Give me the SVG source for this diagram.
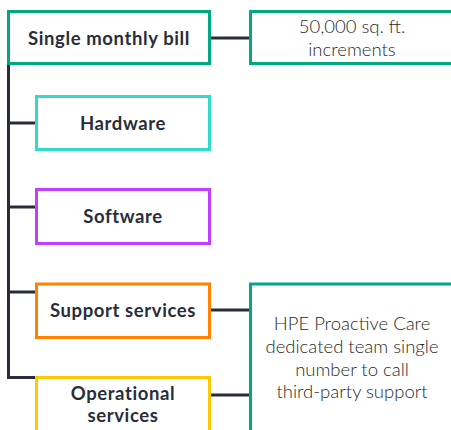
<svg xmlns="http://www.w3.org/2000/svg" width="451" height="430" viewBox="0 0 451 430">
<style>
.box{fill:#fff;stroke-width:3}
.b{font-family:Lato,"Liberation Sans",sans-serif;font-weight:bold;font-size:18.5px;letter-spacing:0.6px;fill:#292d3a;text-anchor:middle}
.t{font-family:Lato,"Liberation Sans",sans-serif;font-weight:300;font-size:18.5px;fill:#2a2a2a;text-anchor:middle}
.c{fill:none;stroke:#292d3a;stroke-width:3}
</style>
<rect width="451" height="430" fill="#fff"/>
<g id="connectors">
<path class="c" d="M8.5 64 V377.5 H36"/>
<path class="c" d="M8.5 123 H36 M8.5 207 H36 M8.5 292 H36"/>
<path class="c" d="M210 38 H250 M210 310 H250 M210 395 H250"/>
</g>
<g id="bill"><rect class="box" x="8.5" y="11.5" width="201" height="52" stroke="#01a982"/><text class="b" x="109" y="45">Single monthly bill</text></g>
<g id="increments"><rect class="box" x="250.5" y="11.5" width="210" height="52" stroke="#01a982"/><text class="t" x="352" y="33">50,000 sq. ft.</text><text class="t" x="352" y="56">increments</text></g>
<g id="hardware"><rect class="box" x="36.5" y="96.5" width="173" height="53" stroke="#32dac8"/><text class="b" x="123" y="130">Hardware</text></g>
<g id="software"><rect class="box" x="36.5" y="189.5" width="173" height="54" stroke="#c140ff"/><text class="b" x="123" y="223">Software</text></g>
<g id="support"><rect class="box" x="36.5" y="284" width="173" height="53.5" stroke="#ff8300"/><text class="b" x="123" y="317">Support services</text></g>
<g id="operational"><rect class="box" x="36.5" y="377.5" width="173" height="70" stroke="#fec901"/><text class="b" x="123" y="399.5">Operational</text><text class="b" x="123" y="422">services</text></g>
<g id="proactive"><rect class="box" x="250.5" y="284" width="210" height="170" stroke="#01a982"/><text class="t" x="352" y="330">HPE Proactive Care</text><text class="t" x="352" y="353">dedicated team single</text><text class="t" x="352" y="375.5">number to call</text><text class="t" x="352" y="398">third-party support</text></g>
</svg>
